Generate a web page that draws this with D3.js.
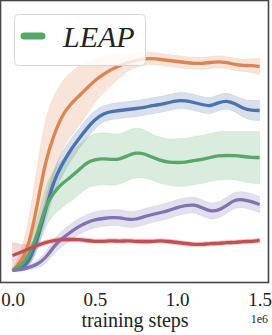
<!DOCTYPE html>
<html>
<head>
<meta charset="utf-8">
<script src="https://cdn.jsdelivr.net/npm/d3@7"></script>
<style>
  body { margin: 0; background: #fff; }
  svg { display: block; font-family: "Liberation Serif", "DejaVu Serif", serif; }
</style>
</head>
<body>
<svg class="chart" width="272" height="335"></svg>
<script>
// training steps, in millions
var steps = [0, 0.05, 0.1, 0.15, 0.2, 0.25, 0.3, 0.35, 0.4, 0.45, 0.5, 0.55, 0.6, 0.65, 0.7,
  0.75, 0.8, 0.85, 0.9, 0.95, 1.0, 1.05, 1.1, 1.15, 1.2, 1.25, 1.3, 1.35, 1.4, 1.45, 1.5];

var orangeMean = [0, 4, 12.5, 32.5, 55, 67.5, 77.5, 83, 87, 91, 95, 98, 100.5, 102.5, 104, 105,
  106, 106, 105.5, 105, 104.5, 104, 103.5, 103.5, 104, 104.5, 104, 103, 102.5, 102.5, 102];
var orangeSd = [0, 5, 12, 20, 22, 20, 17, 16, 15, 13, 11, 9, 8, 6, 4, 3.5, 3, 3, 3, 3, 3, 3, 3,
  3, 3, 3, 3, 3, 3, 3.5, 4];

var blueMean = [0, 1, 4, 15, 30, 45, 53, 60, 65.5, 71, 75.5, 78.5, 79.5, 80, 80.5, 81, 81.5,
  82.5, 83, 84, 85, 85, 84, 83, 82, 84, 85, 83.5, 81, 80, 80];
var blueSd = [0, 1, 3, 5, 6, 6, 6, 5.5, 5, 5, 4.5, 4, 4, 4, 4, 4, 4, 4, 4, 4, 4, 4, 4, 4, 4, 4,
  4, 4, 4.5, 5, 5];

var greenMean = [0, 2, 7.5, 17.5, 32.5, 39, 43.5, 46.5, 50, 54, 55.5, 56, 55.5, 55.5, 57.5, 59,
  58.5, 56.5, 55, 54, 54, 54, 55, 55.5, 56.5, 57.5, 57.5, 57.5, 57, 56.5, 56.5];
var greenSd = [0, 2, 5, 8, 10, 11, 12, 12, 12.5, 12.5, 13, 13, 13, 12.5, 12.5, 12.5, 12, 11.5,
  11.5, 11.5, 12, 12, 12, 12, 12, 12, 12, 12, 12.5, 13, 13];

var purpleMean = [0, 0.5, 1.5, 3, 6, 12, 16, 19, 22, 24, 25.5, 26, 26.5, 26.5, 25.5, 25.5, 27,
  28, 29, 30, 31.5, 32.5, 33, 31.5, 29.5, 30, 32.5, 35.5, 35.5, 34.5, 33];
var purpleSd = [0, 0.5, 1, 2, 3, 3.5, 4, 4, 4, 4, 4, 4, 4, 4, 4, 4, 4, 4, 4, 4, 4, 4, 4, 4, 4,
  4, 4, 4, 4, 4, 4];

var redMean = [7.5, 9, 11, 12.5, 14, 15, 15.5, 15.5, 15.5, 15, 14.5, 14.5, 15, 14.5, 15, 14.5,
  14.5, 14.5, 15, 14.5, 14, 13.5, 13, 13, 13.5, 13.5, 14, 14, 14.5, 14.5, 15];
var redSd = [6.5, 4, 2, 1.5, 1.2, 1.2, 1.2, 1.2, 1.2, 1.2, 1.2, 1.2, 1.2, 1.2, 1.2, 1.2, 1.2,
  1.2, 1.2, 1.2, 1.2, 1.2, 1.2, 1.2, 1.2, 1.2, 1.2, 1.2, 1.2, 1.2, 1.2];

var xTicks = [0, 0.5, 1.0, 1.5];
var legendLabel = 'LEAP';

var series = [
  {name: 'orange', color: '#dd8452', mean: orangeMean, sd: orangeSd},
  {name: 'blue', color: '#4c72b0', mean: blueMean, sd: blueSd},
  {name: 'green', color: '#55a868', mean: greenMean, sd: greenSd},
  {name: 'purple', color: '#8172b3', mean: purpleMean, sd: purpleSd},
  {name: 'red', color: '#c44e52', mean: redMean, sd: redSd}
];

var svg = d3.select('svg.chart');
var plotW = 268, plotH = 282;

var x = d3.scaleLinear().domain([-0.0729, 1.554]).range([0, plotW]);
var y = d3.scaleLinear().domain([-6, 135]).range([plotH, 0]);

var g = svg.append('g').attr('transform', 'translate(0.5,0.5)');

g.append('defs').append('clipPath').attr('id', 'clip')
  .append('rect').attr('width', plotW).attr('height', plotH);

var plot = g.append('g').attr('clip-path', 'url(#clip)');

var area = d3.area()
  .x(function (d) { return x(d.s); })
  .y0(function (d) { return y(d.m - d.sd); })
  .y1(function (d) { return y(d.m + d.sd); })
  .curve(d3.curveBasis);

var line = d3.line()
  .x(function (d) { return x(d.s); })
  .y(function (d) { return y(d.m); })
  .curve(d3.curveBasis);

series.forEach(function (ser) {
  var pts = steps.map(function (s, i) {
    return {s: s, m: ser.mean[i], sd: ser.sd[i]};
  });
  plot.append('path')
    .datum(pts)
    .attr('d', area)
    .attr('fill', ser.color)
    .attr('fill-opacity', 0.22)
    .attr('stroke', ser.color)
    .attr('stroke-opacity', 0.15)
    .attr('stroke-width', 0.8);
  ser.pts = pts;
});

series.forEach(function (ser) {
  plot.append('path')
    .datum(ser.pts)
    .attr('d', line)
    .attr('fill', 'none')
    .attr('stroke', ser.color)
    .attr('stroke-width', 3.3);
});

// frame
g.append('rect')
  .attr('width', plotW).attr('height', plotH)
  .attr('fill', 'none')
  .attr('stroke', '#444')
  .attr('stroke-width', 1.6);

// x axis labels
var xAxis = d3.axisBottom(x).tickValues(xTicks).tickFormat(d3.format('.1f'))
  .tickSize(0).tickPadding(10);
var ax = g.append('g').attr('transform', 'translate(0,' + plotH + ')').call(xAxis);
ax.select('.domain').remove();
ax.selectAll('text')
  .attr('font-family', '"Liberation Serif", serif')
  .attr('font-size', 19)
  .attr('fill', '#222');

svg.append('text')
  .attr('x', 135).attr('y', 327)
  .attr('text-anchor', 'middle')
  .attr('font-size', 20)
  .attr('fill', '#222')
  .text('training steps');

svg.append('text')
  .attr('x', 268).attr('y', 323)
  .attr('text-anchor', 'end')
  .attr('font-size', 12)
  .attr('fill', '#222')
  .text('1e6');

// legend
var leg = svg.append('g');
leg.append('rect')
  .attr('x', 14.5).attr('y', 14.5)
  .attr('width', 131).attr('height', 51)
  .attr('rx', 4)
  .attr('fill', '#fff').attr('fill-opacity', 0.8)
  .attr('stroke', '#d6d6d6');
leg.append('line')
  .attr('x1', 24).attr('x2', 42).attr('y1', 36).attr('y2', 36)
  .attr('stroke', '#55a868')
  .attr('stroke-width', 7)
  .attr('stroke-linecap', 'round');
leg.append('text')
  .attr('x', 63).attr('y', 47)
  .attr('font-size', 30)
  .attr('font-style', 'italic')
  .attr('fill', '#222')
  .text(legendLabel);
</script>
</body>
</html>
